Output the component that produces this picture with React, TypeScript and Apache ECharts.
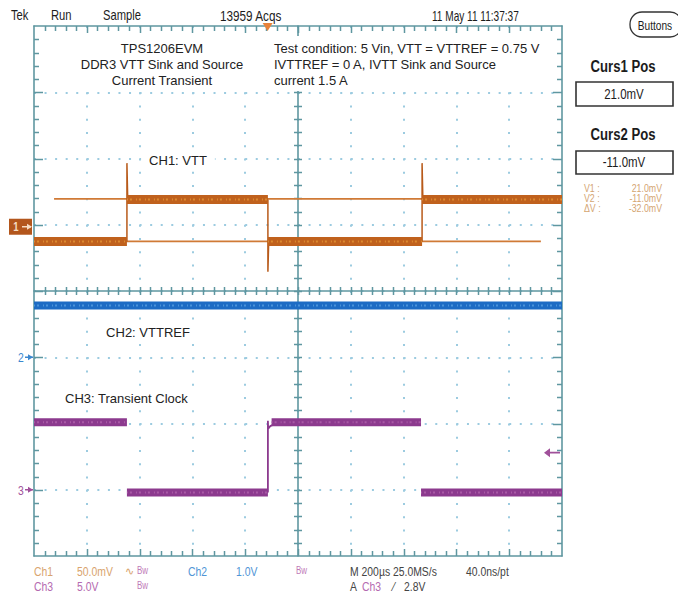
import React, { useEffect, useRef } from "react";
import * as echarts from "echarts";

// ---- horizontal (time) settings, µs relative to screen centre ----
const timeMin = -1000;
const timeMax = 1000;
const timePerDiv = 200;
const divMin = -4;
const divMax = 4;
const minorPerDiv = 5;

// ---- channel scales (units per division) and positions (divisions) ----
const ch1UnitsPerDiv = 50; // mV
const ch1PositionDiv = 0.97;
const ch2UnitsPerDiv = 1; // V
const ch2PositionDiv = -1;
const ch3UnitsPerDiv = 5; // V
const ch3PositionDiv = -3;

// ---- CH1 VTT (mV) ----
const ch1SegmentStart = [-1000, -648, -114, 470];
const ch1SegmentEnd = [-648, -114, 470, 1000];
const ch1SegmentLevel = [-11.2, 20.5, -11.2, 20.5];
const ch1EdgeTime = [-648, -114, 470];
const ch1EdgeFrom = [-11.2, 20.5, -11.2];
const ch1EdgePeak = [48, -34, 48];
const ch1EdgeTo = [20.5, -11.2, 20.5];

// ---- cursors (mV on CH1) ----
const cursorLevel = [21.0, -11.0];
const cursorStart = [-924, -1000];
const cursorEnd = [1000, 920];

// ---- CH2 VTTREF (V) ----
const ch2Time = [-1000, 1000];
const ch2Level = [0.78, 0.78];

// ---- CH3 transient clock (V) ----
const ch3SegmentStart = [-1000, -648, -100, 466];
const ch3SegmentEnd = [-648, -114, 466, 1000];
const ch3SegmentLevel = [5.1, -0.2, 5.1, -0.2];
const ch3EdgeTime = [-114, -114, -113, -105, -90, -70, -45];
const ch3EdgeValue = [-0.2, 5.2, 4.6, 4.8, 4.95, 5.05, 5.1];

// ---- trigger ----
const triggerTime = -115;
const triggerLevel = 2.8; // V on CH3

// ---- layout ----
const GL = 34;
const GT = 26;
const GW = 528;
const GH = 530;
const divH = GH / (divMax - divMin);
const yOfDiv = (d: number) => GT + (divMax - d) * divH;
const BOX = { x: 44, y: 36, width: 506, height: 55 };

const GRAT = "#5f97a0";
const DOT = "#9ccbe0";
const SANS = "'Liberation Sans', Arial, sans-serif";
const INK = "#1c1c1c";

const C1 = "#c0611d";
const C1L = "#dc8a30";
const C2 = "#1d6cc4";
const C2L = "#4a94da";
const C3 = "#8c3a8e";
const C3L = "#a95aa6";

const toDiv = (v: number, upd: number, pos: number) => v / upd + pos;

function segData(starts: number[], ends: number[], levels: number[], upd: number, pos: number) {
  const out: any[] = [];
  starts.forEach((s, i) => {
    out.push([s, toDiv(levels[i], upd, pos)]);
    out.push([ends[i], toDiv(levels[i], upd, pos)]);
    out.push([ends[i], "-"]);
  });
  return out;
}

function ch1EdgeData() {
  const out: any[] = [];
  ch1EdgeTime.forEach((t, i) => {
    out.push([t, toDiv(ch1EdgeFrom[i], ch1UnitsPerDiv, ch1PositionDiv)]);
    out.push([t, toDiv(ch1EdgePeak[i], ch1UnitsPerDiv, ch1PositionDiv)]);
    out.push([t + 3, toDiv(ch1EdgeTo[i], ch1UnitsPerDiv, ch1PositionDiv)]);
    out.push([t + 3, "-"]);
  });
  return out;
}

function cursorData() {
  const out: any[] = [];
  cursorLevel.forEach((v, i) => {
    out.push([cursorStart[i], toDiv(v, ch1UnitsPerDiv, ch1PositionDiv)]);
    out.push([cursorEnd[i], toDiv(v, ch1UnitsPerDiv, ch1PositionDiv)]);
    out.push([cursorEnd[i], "-"]);
  });
  return out;
}

function xAx(position: string, onZero: boolean, split: boolean) {
  return {
    type: "value",
    position,
    min: timeMin,
    max: timeMax,
    interval: timePerDiv,
    axisLabel: { show: false },
    splitLine: split
      ? { show: true, showMinLine: false, showMaxLine: false, lineStyle: { color: DOT, width: 2, type: [2, 11.25] } }
      : { show: false },
    axisLine: { show: true, onZero, onZeroAxisIndex: 0, lineStyle: { color: GRAT, width: 1.6 } },
    axisTick: { show: false },
  };
}

function yAx(position: string, onZero: boolean, split: boolean) {
  return {
    type: "value",
    position,
    min: divMin,
    max: divMax,
    interval: 1,
    axisLabel: { show: false },
    splitLine: split
      ? { show: true, showMinLine: false, showMaxLine: false, lineStyle: { color: DOT, width: 2, type: [2, 8.56] } }
      : { show: false },
    axisLine: { show: true, onZero, onZeroAxisIndex: 0, lineStyle: { color: GRAT, width: 1.6 } },
    axisTick: { show: false },
  };
}

// graticule tick marks (screen furniture of the scope)
function graticuleTicks() {
  const out: any[] = [];
  const inBox = (x: number, y: number) =>
    x >= BOX.x && x <= BOX.x + BOX.width && y >= BOX.y && y <= BOX.y + BOX.height;
  const tick = (x1: number, y1: number, x2: number, y2: number) => {
    if (inBox(x1, y1) || inBox(x2, y2)) return;
    out.push({
      type: "line",
      z: 1.5,
      silent: true,
      shape: { x1, y1, x2, y2 },
      style: { stroke: GRAT, lineWidth: 1.5 },
    });
  };
  const nx = ((timeMax - timeMin) / timePerDiv) * minorPerDiv;
  const ny = (divMax - divMin) * minorPerDiv;
  const cx = GL + GW / 2;
  const cy = GT + GH / 2;
  for (let i = 1; i < nx; i++) {
    const x = Math.round(GL + (i * GW) / nx) + 0.5;
    const major = i % minorPerDiv === 0;
    const len = major ? 7 : 5;
    tick(x, GT, x, GT + len);
    tick(x, GT + GH, x, GT + GH - len);
    tick(x, cy - 4, x, cy + 4);
  }
  for (let j = 1; j < ny; j++) {
    const y = Math.round(GT + (j * GH) / ny) + 0.5;
    const major = j % minorPerDiv === 0;
    const len = major ? 9 : 5;
    tick(GL, y, GL + len, y);
    tick(GL + GW, y, GL + GW - len, y);
    tick(cx - 4, y, cx + 4, y);
  }
  return out;
}

function txt(x: number, y: number, text: string, fill: string, font: string, align = "left", extra: any = {}, scaleX = 1) {
  return {
    type: "text",
    x,
    y,
    z: 100,
    scaleX,
    silent: true,
    style: {
      text,
      fill,
      font,
      align,
      textAlign: align,
      verticalAlign: "middle",
      textVerticalAlign: "middle",
      ...extra,
    },
  };
}

// condensed scope-style text
function ntxt(x: number, y: number, text: string, fill: string, size: number, align = "left", bold = false, scaleX = 0.8) {
  return txt(x, y, text, fill, `${bold ? "bold " : ""}${size}px ${SANS}`, align, {}, scaleX);
}

function buildOption() {
  const y1 = yOfDiv(ch1PositionDiv);
  const y2 = yOfDiv(ch2PositionDiv);
  const y3 = yOfDiv(ch3PositionDiv);

  const graphic: any[] = [
    // annotation box (under the ticks, above the dotted grid)
    { type: "rect", z: 1, silent: true, shape: { ...BOX }, style: { fill: "#fff" } },
    ...graticuleTicks(),
    // header
    ntxt(11, 16, "Tek", INK, 14),
    ntxt(51, 16, "Run", INK, 14),
    ntxt(103, 16, "Sample", INK, 14),
    ntxt(220, 16, "13959 Acqs", INK, 14, "left", false, 0.84),
    ntxt(432, 16, "11 May 11 11:37:37", INK, 14, "left", false, 0.72),
    {
      type: "rect",
      z: 100,
      shape: { x: 630, y: 12, width: 52, height: 25, r: 12 },
      style: { fill: "#fff", stroke: "#333", lineWidth: 1.3 },
    },
    ntxt(655, 25, "Buttons", INK, 13, "center", false, 0.78),
    // cursor panel
    ntxt(623, 67, "Curs1 Pos", INK, 16, "center", true, 0.82),
    { type: "rect", z: 100, shape: { x: 576, y: 82, width: 97, height: 24 }, style: { fill: "#fff", stroke: "#333", lineWidth: 1.6 } },
    ntxt(624, 94, "21.0mV", INK, 14, "center", false, 0.82),
    ntxt(623, 135, "Curs2 Pos", INK, 16, "center", true, 0.82),
    { type: "rect", z: 100, shape: { x: 576, y: 151, width: 97, height: 23 }, style: { fill: "#fff", stroke: "#333", lineWidth: 1.6 } },
    ntxt(624, 162, "-11.0mV", INK, 14, "center", false, 0.82),
    ntxt(584, 188, "V1 :", "#d4a572", 11),
    ntxt(662, 188, "21.0mV", "#d4a572", 11, "right"),
    ntxt(584, 198, "V2 :", "#d4a572", 11),
    ntxt(662, 198, "-11.0mV", "#d4a572", 11, "right"),
    ntxt(584, 208, "\u0394V :", "#d4a572", 11),
    ntxt(662, 208, "-32.0mV", "#d4a572", 11, "right"),
    // annotations
    txt(162, 48, "TPS1206EVM", "#222", `13px ${SANS}`, "center"),
    txt(162, 64, "DDR3 VTT Sink and Source", "#222", `13px ${SANS}`, "center"),
    txt(162, 80, "Current Transient", "#222", `13px ${SANS}`, "center"),
    txt(274, 48, "Test condition: 5 Vin, VTT = VTTREF = 0.75 V", "#222", `13px ${SANS}`),
    txt(274, 64, "IVTTREF = 0 A, IVTT Sink and Source", "#222", `13px ${SANS}`),
    txt(274, 80, "current 1.5 A", "#222", `13px ${SANS}`),
    txt(178, 160, "CH1: VTT", "#222", `13px ${SANS}`, "center", { backgroundColor: "#fff", padding: [3, 8] }),
    txt(148, 332, "CH2: VTTREF", "#222", `13px ${SANS}`, "center", { backgroundColor: "#fff", padding: [3, 8] }),
    txt(59, 398, "CH3: Transient Clock", "#222", `13px ${SANS}`, "left", { backgroundColor: "#fff", padding: [3, 6] }),
    // channel markers
    { type: "rect", z: 100, shape: { x: 9, y: y1 - 8, width: 23, height: 16 }, style: { fill: "#b3561c" } },
    ntxt(16, y1, "1", "#f6dcc2", 12, "center", true),
    { type: "line", z: 100, shape: { x1: 22, y1: y1, x2: 31, y2: y1 }, style: { stroke: "#f6dcc2", lineWidth: 1.5 } },
    { type: "polygon", z: 100, shape: { points: [[27, y1 - 3], [32, y1], [27, y1 + 3]] }, style: { fill: "#f6dcc2" } },
    ntxt(21, y2, "2", "#3a87cf", 13, "center"),
    { type: "line", z: 100, shape: { x1: 25, y1: y2, x2: 33, y2: y2 }, style: { stroke: "#3a87cf", lineWidth: 1.5 } },
    { type: "polygon", z: 100, shape: { points: [[28, y2 - 3], [33, y2], [28, y2 + 3]] }, style: { fill: "#3a87cf" } },
    ntxt(21, y3, "3", "#a0509a", 13, "center"),
    { type: "line", z: 100, shape: { x1: 25, y1: y3, x2: 33, y2: y3 }, style: { stroke: "#a0509a", lineWidth: 1.5 } },
    { type: "polygon", z: 100, shape: { points: [[28, y3 - 3], [33, y3], [28, y3 + 3]] }, style: { fill: "#a0509a" } },
    // bottom status
    ntxt(34, 571, "Ch1", "#d9a46e", 13),
    ntxt(77, 571, "50.0mV", "#d9a46e", 13),
    txt(125, 571, "\u223f", "#d9a46e", `11px ${SANS}`),
    ntxt(137, 571, "Bw", "#c07ab8", 10),
    ntxt(188, 571, "Ch2", "#4f95d6", 13),
    ntxt(236, 571, "1.0V", "#4f95d6", 13),
    ntxt(296, 571, "Bw", "#c07ab8", 10),
    ntxt(350, 571, "M 200\u00b5s 25.0MS/s", "#444", 13),
    ntxt(466, 571, "40.0ns/pt", "#444", 13),
    ntxt(34, 586, "Ch3", "#b469b0", 13),
    ntxt(77, 586, "5.0V", "#b469b0", 13),
    ntxt(137, 586, "Bw", "#c07ab8", 10),
    ntxt(350, 586, "A", "#444", 13),
    ntxt(362, 586, "Ch3", "#b469b0", 13),
    ntxt(393, 586, "\u2215", "#444", 13),
    ntxt(404, 586, "2.8V", "#444", 13),
  ];

  const ch1Band = segData(ch1SegmentStart, ch1SegmentEnd, ch1SegmentLevel, ch1UnitsPerDiv, ch1PositionDiv);
  const ch3Band = segData(ch3SegmentStart, ch3SegmentEnd, ch3SegmentLevel, ch3UnitsPerDiv, ch3PositionDiv);
  const ch2Band = ch2Time.map((t, i) => [t, toDiv(ch2Level[i], ch2UnitsPerDiv, ch2PositionDiv)]);
  const ch3Edge = ch3EdgeTime.map((t, i) => [t, toDiv(ch3EdgeValue[i], ch3UnitsPerDiv, ch3PositionDiv)]);

  const line = (name: string, data: any[], color: string, width: number, type: any = "solid", z = 2) => ({
    name,
    type: "line",
    data,
    symbol: "none",
    showSymbol: false,
    silent: true,
    connectNulls: false,
    z,
    lineStyle: { color, width, type, cap: "butt" },
  });

  return {
    animation: false,
    backgroundColor: "#ffffff",
    grid: { left: GL, top: GT, width: GW, height: GH, containLabel: false },
    xAxis: [xAx("bottom", false, true), xAx("top", false, false), xAx("bottom", true, false)],
    yAxis: [yAx("left", false, true), yAx("right", false, false), yAx("left", true, false)],
    graphic,
    series: [
      line("Cursors", cursorData(), "#d07a36", 1.8),
      line("CH1 edges", ch1EdgeData(), "#b85a1a", 1.5),
      line("CH1: VTT", ch1Band, C1, 9),
      line("CH1 speckle", ch1Band, C1L, 2, [1, 2, 2, 4], 3),
      line("CH2: VTTREF", ch2Band, C2, 8),
      line("CH2 speckle", ch2Band, C2L, 2, [1, 2, 2, 4], 3),
      {
        ...line("CH3 edge", ch3Edge, C3, 1.8),
        markPoint: {
          silent: true,
          label: { show: false },
          data: [
            {
              coord: [triggerTime, divMax],
              symbol: "triangle",
              symbolRotate: 180,
              symbolSize: [10, 8],
              symbolOffset: [0, 1],
              itemStyle: { color: "#e8823a" },
            },
            {
              coord: [timeMax, toDiv(triggerLevel, ch3UnitsPerDiv, ch3PositionDiv)],
              symbol: "path://M0,5 L6,0 L6,4 L16,4 L16,6 L6,6 L6,10 Z",
              symbolSize: [16, 9],
              symbolOffset: [-10, 0],
              itemStyle: { color: "#a0509a" },
            },
          ],
        },
      },
      line("CH3: Transient Clock", ch3Band, C3, 8),
      line("CH3 speckle", ch3Band, C3L, 2, [1, 2, 2, 4], 3),
    ],
  };
}

export default function App() {
  const ref = useRef<HTMLDivElement>(null);
  useEffect(() => {
    if (!ref.current) return;
    const chart = echarts.init(ref.current, null, { renderer: "svg" });
    chart.setOption(buildOption() as any);
    return () => chart.dispose();
  }, []);
  return (
    <div
      ref={ref}
      style={{ position: "absolute", left: 0, top: 0, width: 678, height: 592, background: "#fff" }}
    />
  );
}
